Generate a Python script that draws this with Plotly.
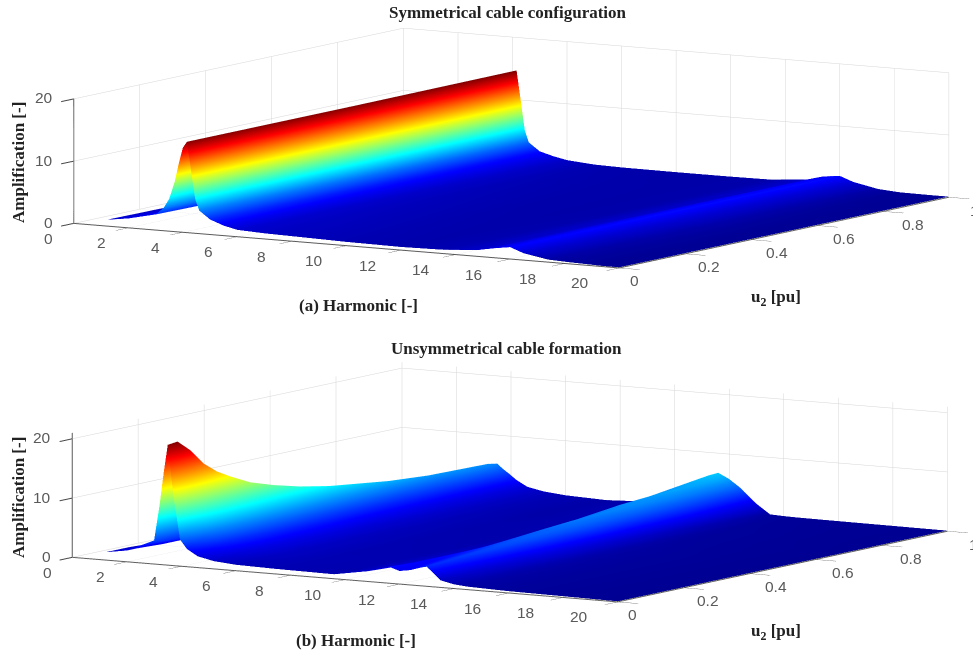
import plotly.graph_objects as go

harm_a = [1.2, 2, 3, 3.3, 3.5, 3.7, 3.85, 4.0, 4.15, 4.3, 4.45, 4.6, 5.0, 5.5, 6, 7, 8, 10, 12, 13.5, 14.8, 15.4, 16, 16.5, 17.4, 18.2, 19.4, 20]
u2_a = [0, 0.5, 1]
amp_a = [
    [1.0, .8, .6], [1.5, 1.2, 1], [2.5, 2.2, 2], [3.7, 3.4, 3.2], [5.2, 5.1, 5], [8, 8, 8], [11, 11, 11],
    [13.6, 13.6, 13.6], [14.6, 14.6, 14.7], [10, 10, 10], [5.5, 5.4, 5.2], [3.7, 3.5, 3.3], [2.4, 2.2, 2],
    [1.6, 1.5, 1.4], [1.1, 1, .95], [.9, .75, .6], [.8, .65, .5], [.6, .5, .45], [.5, .45, .45], [.6, .5, .5],
    [1, 1, 1], [1.5, 1.6, 1.7], [1.9, 2, 2], [1.1, 1.2, 1.2], [.4, .5, .4], [.25, .25, .15], [.1, .1, .1], [.1, .1, .1],
]

harm_b = [1.2, 2, 3, 3.2, 3.35, 3.5, 3.7, 3.95, 4.2, 4.6, 5.2, 6, 7.5, 9.6, 10.8, 11.2, 11.6, 12, 12.4, 12.8, 13, 13.5, 14, 14.5, 16, 18, 20]
u2_b = [0, .03, .07, .11, .15, .19, .25, .32, .4, .49, .67, .79, .97, 1]
amp_b = [
    [1.3, 1.3, 1.3, 1.2, 1.2, 1.2, 1.15, 1.1, 1.05, 1, .9, .9, .8, .8],
    [1.9, 1.9, 1.8, 1.7, 1.7, 1.7, 1.65, 1.6, 1.55, 1.5, 1.4, 1.3, 1.2, 1.2],
    [4.0, 3.6, 3.4, 3.2, 3.05, 2.9, 2.75, 2.6, 2.45, 2.3, 2.1, 2, 1.9, 1.9],
    [10, 9.5, 9, 7.5, 6.7, 6, 5.2, 4.5, 4.1, 3.8, 3.2, 3, 2.8, 2.8],
    [15.5, 15.5, 14, 12, 10.5, 9, 7.7, 6.5, 5.7, 5, 4.3, 4, 3.9, 3.8],
    [20.3, 20.5, 18.5, 15.8, 14, 12.7, 11, 9.7, 8.5, 7.5, 6.2, 5.7, 5.5, 5.2],
    [12, 13, 12, 11, 10.2, 9.5, 8.5, 7.5, 6.7, 6, 5, 4.7, 4.6, 4.4],
    [4.5, 6, 7.5, 7.5, 7.3, 7, 6.4, 5.8, 5.2, 4.7, 4, 3.8, 3.7, 3.6],
    [3, 3.8, 4.8, 5.2, 5.2, 5.1, 4.8, 4.5, 4.1, 3.7, 3.2, 3, 2.8, 2.7],
    [1.9, 2.4, 3, 3.3, 3.4, 3.4, 3.3, 3.1, 2.9, 2.6, 2.2, 2, 1.8, 1.7],
    [1.3, 1.5, 1.7, 1.9, 2, 2, 2, 1.9, 1.8, 1.6, 1.4, 1.3, 1.2, 1.15],
    [1, 1.05, 1.1, 1.2, 1.25, 1.25, 1.25, 1.2, 1.1, 1.05, .95, .9, .85, .8],
    [.85, .85, .85, .85, .85, .85, .8, .8, .78, .75, .7, .6, .6, .55],
    [.75, .75, .75, .8, .8, .8, .78, .75, .72, .7, .75, .8, .95, 1],
    [1.7, 1.6, 1.5, 1.5, 1.45, 1.4, 1.35, 1.3, 1.3, 1.3, 1.5, 1.9, 3.6, 4],
    [2.3, 2.2, 2.1, 2, 1.95, 1.9, 1.9, 1.9, 2, 2.1, 2.7, 3.5, 5.6, 5.9],
    [2.8, 2.7, 2.6, 2.6, 2.6, 2.6, 2.65, 2.7, 2.9, 3.1, 4.2, 5.2, 6.6, 6.7],
    [2.2, 2.4, 2.5, 2.6, 2.8, 3, 3.2, 3.5, 3.8, 4.2, 5.4, 5.9, 6, 5.8],
    [2.5, 2.7, 2.9, 3.1, 3.25, 3.4, 3.8, 4.2, 4.6, 5, 5.4, 5.3, 4.7, 4.5],
    [3.1, 3.3, 3.4, 3.6, 3.75, 3.9, 4.15, 4.4, 4.5, 4.6, 4.4, 4, 3, 2.8],
    [3.3, 3.5, 3.6, 3.7, 3.8, 3.9, 4, 4.1, 4.1, 4.1, 3.6, 3.1, 2.2, 2],
    [1.2, 1.3, 1.4, 1.5, 1.6, 1.7, 1.8, 1.9, 1.8, 1.7, 1.2, .9, .5, .4],
    [.7, .7, .8, .8, .8, .8, .8, .8, .75, .7, .5, .45, .3, .3],
    [.5, .5, .5, .5, .5, .5, .5, .5, .48, .45, .35, .3, .25, .25],
    [.3, .3, .3, .3, .3, .3, .3, .3, .3, .3, .25, .25, .2, .2],
    [.2, .2, .2, .2, .2, .2, .2, .2, .2, .2, .2, .15, .15, .15],
    [.1, .1, .1, .1, .1, .1, .1, .1, .1, .1, .1, .1, .1, .1],
]

harm_ticks = [0, 2, 4, 6, 8, 10, 12, 14, 16, 18, 20]
u2_ticks = [0, 0.2, 0.4, 0.6, 0.8, 1]
amp_ticks = [0, 10, 20]
u2_tick_text = ["0", "0.2", "0.4", "0.6", "0.8", "1"]

JET = [[0, "rgb(0,0,143)"], [.125, "rgb(0,0,255)"], [.375, "rgb(0,255,255)"],
       [.625, "rgb(255,255,0)"], [.875, "rgb(255,0,0)"], [1, "rgb(128,0,0)"]]
LIGHT = dict(ambient=1, diffuse=0, specular=0, roughness=1, fresnel=0)

fig = go.Figure()
fig.add_trace(go.Surface(x=harm_a, y=u2_a, z=[list(r) for r in zip(*amp_a)], colorscale=JET, cmin=0, cmax=14.7,
                         showscale=False, lighting=LIGHT, scene="scene", hoverinfo="skip"))
fig.add_trace(go.Surface(x=harm_b, y=u2_b, z=[list(r) for r in zip(*amp_b)], colorscale=JET, cmin=0, cmax=20.5,
                         showscale=False, lighting=LIGHT, scene="scene2", hoverinfo="skip"))

TICK = dict(family="Liberation Sans", size=15.5, color="#5a5a5a")


def axis(rng, ticks):
    return dict(range=rng, tickvals=ticks, title=dict(text=""), showbackground=False, showgrid=True,
                gridcolor="#d6d6d6", gridwidth=1, zeroline=False, showline=True, linecolor="#5a5a5a",
                linewidth=2, ticks="outside", ticklen=24, tickcolor="#444444", tickwidth=2,
                showticklabels=False, showspikes=False, autorange=False)


def tick_notes():
    out = []
    for h in harm_ticks:
        out.append(dict(x=h, y=0, z=0, text=str(h), showarrow=False, font=TICK,
                        xshift=-25 - 0.7 * h, yshift=-15))
    for u, label, dx in zip(u2_ticks, u2_tick_text, [15, 24, 26, 27, 30, 26]):
        out.append(dict(x=20, y=u, z=0, text=label, showarrow=False, font=TICK, xshift=dx, yshift=-13))
    for a in amp_ticks:
        out.append(dict(x=0, y=0, z=a, text=str(a), showarrow=False, font=TICK, xanchor="right",
                        xshift=-19, yshift=1))
    return out


DIR = (0.519, -0.841, 0.132)
D = 20


def scene(dom, zmax, center):
    return dict(domain=dict(x=[0, 1], y=dom),
                xaxis=axis([0, 20], harm_ticks), yaxis=axis([0, 1], u2_ticks), zaxis=axis([0, zmax], amp_ticks),
                annotations=tick_notes(),
                aspectmode="manual", aspectratio=dict(x=3.92, y=3.84, z=0.768),
                camera=dict(projection=dict(type="orthographic"), up=dict(x=0, y=0, z=1),
                            center=dict(x=center[0], y=center[1], z=center[2]),
                            eye=dict(x=center[0] + DIR[0] * D, y=center[1] + DIR[1] * D, z=center[2] + DIR[2] * D)))


fig.update_layout(width=973, height=654, margin=dict(l=0, r=0, t=0, b=0), paper_bgcolor="white",
                  showlegend=False,
                  scene=scene([0.5, 1], 20, (-0.1225, -0.0903, -0.0936)),
                  scene2=scene([0, 0.5], 21, (-0.1178, -0.0807, -0.0513)))

SERIF = dict(family="Liberation Serif", size=17, color="#222222", weight="bold")


def note(px, py, text, angle=0):
    fig.add_annotation(x=px / 973, y=1 - py / 654, xref="paper", yref="paper", text=text, showarrow=False,
                       font=SERIF, textangle=angle, xanchor="center", yanchor="middle")


note(508, 12, "Symmetrical cable configuration")
note(506, 348, "Unsymmetrical cable formation")
note(358, 305, "(a) Harmonic [-]")
note(356, 640, "(b) Harmonic [-]")
note(776, 298, "u<sub>2</sub> [pu]")
note(776, 632, "u<sub>2</sub> [pu]")
note(18, 163, "Amplification [-]", -90)
note(18, 498, "Amplification [-]", -90)

fig.write_html("out.html", config=dict(displayModeBar=False), post_script="document.body.style.margin='0';")
